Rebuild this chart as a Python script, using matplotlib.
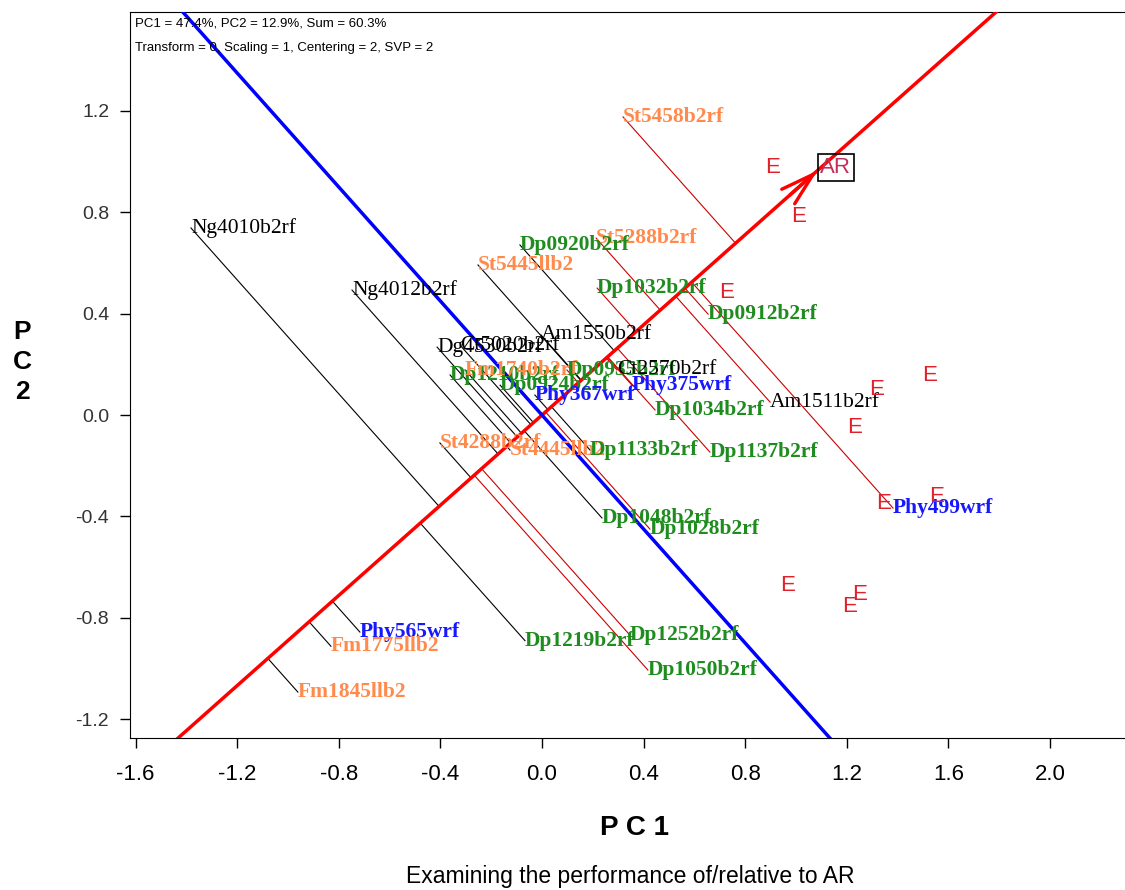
import matplotlib
matplotlib.use('Agg')
import matplotlib.pyplot as plt
import numpy as np

plt.rcParams['axes.unicode_minus'] = False
plt.rcParams['font.family'] = ['Liberation Sans', 'DejaVu Sans']

# genotype scores (PC1, PC2)
gen_names = ['St5458b2rf', 'St5288b2rf', 'Dp0920b2rf', 'St5445llb2', 'Ng4010b2rf',
             'Ng4012b2rf', 'Dp1032b2rf', 'Dp0912b2rf', 'Am1550b2rf', 'Dg4530b2rf',
             'Ct5020b2rf', 'Dp1210b2rf', 'Fm1740b2rf', 'Dp0924b2rf', 'Dp0935b2rf',
             'Ct2570b2rf', 'Phy375wrf', 'Phy367wrf', 'Dp1034b2rf', 'Am1511b2rf',
             'St4288b2rf', 'St4445llb2', 'Dp1133b2rf', 'Dp1137b2rf', 'Phy499wrf',
             'Dp1048b2rf', 'Dp1028b2rf', 'Phy565wrf', 'Fm1775llb2', 'Dp1219b2rf',
             'Dp1252b2rf', 'Dp1050b2rf', 'Fm1845llb2']
gen_pc1 = [0.319, 0.213, -0.087, -0.252, -1.382,
           -0.748, 0.217, 0.654, -0.004, -0.413,
           -0.323, -0.362, -0.303, -0.165, 0.098,
           0.295, 0.354, -0.028, 0.445, 0.898,
           -0.402, -0.126, 0.189, 0.661, 1.382,
           0.236, 0.425, -0.717, -0.831, -0.067,
           0.346, 0.417, -0.961]
gen_pc2 = [1.176, 0.698, 0.671, 0.592, 0.738,
           0.493, 0.501, 0.398, 0.316, 0.268,
           0.276, 0.158, 0.178, 0.118, 0.178,
           0.178, 0.118, 0.079, 0.020, 0.051,
           -0.110, -0.138, -0.138, -0.146, -0.367,
           -0.406, -0.450, -0.856, -0.912, -0.890,
           -0.868, -1.006, -1.093]
gen_group = ['St', 'St', 'Dp', 'St', 'Ng',
             'Ng', 'Dp', 'Dp', 'Ng', 'Ng',
             'Ng', 'Dp', 'St', 'Dp', 'Dp',
             'Ng', 'Phy', 'Phy', 'Dp', 'Ng',
             'St', 'St', 'Dp', 'Dp', 'Phy',
             'Dp', 'Dp', 'Phy', 'St', 'Dp',
             'Dp', 'Dp', 'St']
gen_line = ['r', 'r', 'k', 'k', 'k',
            'k', 'r', 'r', 'k', 'k',
            'k', 'k', 'k', 'k', 'r',
            'r', 'r', 'k', 'r', 'r',
            'k', 'k', 'k', 'r', 'r',
            'k', 'r', 'k', 'k', 'k',
            'r', 'r', 'k']

# environment scores
env_pc1 = [0.909, 1.012, 0.728, 1.319, 1.524, 1.232, 1.346, 1.555, 0.965, 1.252, 1.209]
env_pc2 = [0.978, 0.785, 0.485, 0.099, 0.158, -0.051, -0.347, -0.320, -0.671, -0.706, -0.757]

ar = (1.085, 0.965)

x_ticks = [-1.6, -1.2, -0.8, -0.4, 0.0, 0.4, 0.8, 1.2, 1.6, 2.0]
y_ticks = [-1.2, -0.8, -0.4, 0.0, 0.4, 0.8, 1.2]

group_colors = {'St': '#FF8A4C', 'Dp': '#1E8C1E', 'Phy': '#1818FF', 'Ng': '#000000'}
line_colors = {'r': '#CC0000', 'k': '#000000'}

fig = plt.figure(figsize=(11.25, 8.9), dpi=100)
ax = fig.add_axes([130 / 1125, 1 - 738 / 890, 998 / 1125, (738 - 12) / 890])
ax.set_xlim(-1.622, 2.307)
ax.set_ylim(-1.274, 1.59)

u = np.array(ar) / np.hypot(*ar)

# projection lines onto the AR axis
for x, y, lc in zip(gen_pc1, gen_pc2, gen_line):
    t = x * u[0] + y * u[1]
    ax.plot([x, t * u[0]], [y, t * u[1]], color=line_colors[lc], lw=0.8, zorder=2)

ax.axline((0, 0), ar, color='#FF0000', lw=2.5, zorder=3)
ax.axline((0, 0), slope=-ar[0] / ar[1], color='#0000FF', lw=2.5, zorder=3)
ax.annotate('', xy=ar, xytext=(ar[0] * 0.9, ar[1] * 0.9),
            arrowprops=dict(arrowstyle='->,head_length=1.2,head_width=0.35',
                            color='#FF0000', lw=2.4, mutation_scale=20,
                            shrinkA=0, shrinkB=0), zorder=4)
ax.text(ar[0] + 0.072, ar[1] + 0.012, 'AR', ha='center', va='center', fontsize=16,
        color='#C0305A', zorder=5,
        bbox=dict(boxstyle='square,pad=0.12', fc='none', ec='black', lw=1.2))

for name, x, y, g in zip(gen_names, gen_pc1, gen_pc2, gen_group):
    ax.text(x, y, name, ha='left', va='center', fontsize=15.5, family='Liberation Serif',
            color=group_colors[g], fontweight='normal' if g == 'Ng' else 'bold', zorder=5)

for x, y in zip(env_pc1, env_pc2):
    ax.text(x, y, 'E', ha='center', va='center', fontsize=16, color='#E0202A', zorder=5)

ax.set_xticks(x_ticks)
ax.set_xticklabels(['%.1f' % v for v in x_ticks])
ax.set_yticks(y_ticks)
ax.set_yticklabels(['%.1f' % v for v in y_ticks])
ax.tick_params(axis='both', direction='out', length=7, width=1)
ax.tick_params(axis='x', labelsize=16, pad=12)
ax.tick_params(axis='y', labelsize=14, pad=8, labelcolor='#333333')

fig.text(135 / 1125, 1 - 23 / 890, 'PC1 = 47.4%, PC2 = 12.9%, Sum = 60.3%',
         fontsize=9.5, va='center')
fig.text(135 / 1125, 1 - 48 / 890, 'Transform = 0, Scaling = 1, Centering = 2, SVP = 2',
         fontsize=9.5, va='center')

fig.text(22 / 1125, 1 - 362 / 890, 'P\nC\n2', fontsize=19, fontweight='bold',
         ha='center', va='center', linespacing=1.3)
fig.text(635 / 1125, 1 - 828 / 890, 'P C 1', fontsize=20, fontweight='bold',
         ha='center', va='center')
fig.text(630 / 1125, 1 - 877 / 890, 'Examining the performance of/relative to AR',
         fontsize=16.5, ha='center', va='center')

fig.savefig('out.png', dpi=100)
